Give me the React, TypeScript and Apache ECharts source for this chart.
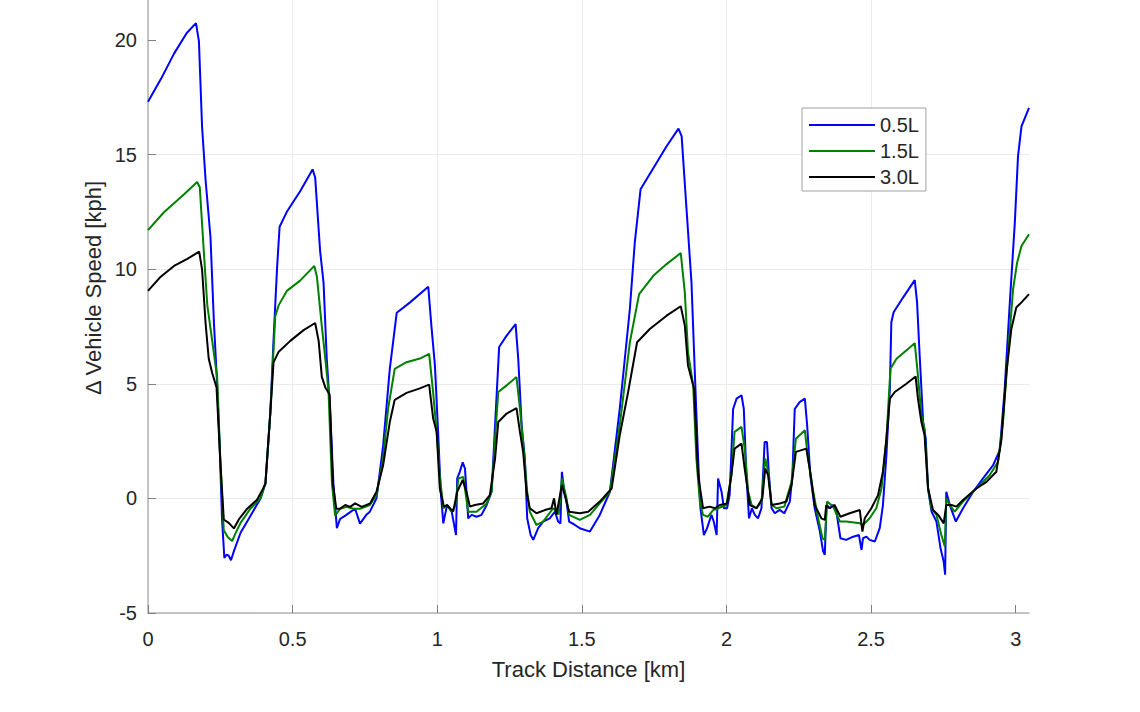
import React, { useEffect, useRef } from "react";
import * as echarts from "echarts";

// Track distance [km] and Δ vehicle speed [kph] for each configuration
const dist05 = [
  0, 0.045, 0.09, 0.134, 0.166, 0.176, 0.187, 0.199, 0.216, 0.228, 0.239, 0.248, 0.256, 0.264, 0.272, 0.279, 0.287,
  0.297, 0.32, 0.354, 0.389, 0.406, 0.423, 0.434, 0.446, 0.455, 0.48, 0.526, 0.569, 0.578, 0.595, 0.607, 0.618, 0.63,
  0.641, 0.653, 0.664, 0.682, 0.699, 0.716, 0.733, 0.756, 0.767, 0.79, 0.813, 0.836, 0.86, 0.906, 0.969, 0.98, 0.992,
  1.003, 1.012, 1.021, 1.034, 1.05, 1.065, 1.069, 1.078, 1.088, 1.096, 1.107, 1.119, 1.136, 1.153, 1.171, 1.188, 1.2,
  1.214, 1.24, 1.271, 1.28, 1.292, 1.303, 1.311, 1.323, 1.332, 1.349, 1.366, 1.389, 1.407, 1.418, 1.426, 1.431, 1.438,
  1.447, 1.456, 1.476, 1.493, 1.528, 1.562, 1.597, 1.631, 1.666, 1.683, 1.703, 1.747, 1.793, 1.834, 1.845, 1.862,
  1.879, 1.891, 1.902, 1.91, 1.922, 1.933, 1.948, 1.956, 1.966, 1.971, 1.983, 1.991, 2.002, 2.011, 2.023, 2.035, 2.052,
  2.06, 2.069, 2.078, 2.088, 2.098, 2.109, 2.121, 2.132, 2.14, 2.147, 2.156, 2.167, 2.184, 2.2, 2.219, 2.228, 2.236,
  2.253, 2.271, 2.279, 2.29, 2.305, 2.323, 2.334, 2.34, 2.346, 2.357, 2.369, 2.38, 2.394, 2.414, 2.438, 2.458, 2.467,
  2.472, 2.484, 2.495, 2.513, 2.53, 2.541, 2.553, 2.565, 2.57, 2.578, 2.611, 2.651, 2.659, 2.668, 2.68, 2.689, 2.697,
  2.709, 2.726, 2.74, 2.751, 2.756, 2.76, 2.772, 2.793, 2.818, 2.853, 2.887, 2.922, 2.945, 2.962, 2.979, 2.997, 3.008,
  3.02, 3.046,
];
const speed05 = [
  17.3, 18.3, 19.4, 20.3, 20.73, 19.95, 16.2, 13.9, 11.4, 7.65, 5.0, 2.2, -0.92, -2.6, -2.45, -2.5, -2.7,
  -2.3, -1.5, -0.77, 0.0, 0.65, 3.75, 6.9, 10.0, 11.85, 12.5, 13.4, 14.35, 14.0, 10.8, 9.4, 6.1, 3.75,
  0.65, -1.3, -0.9, -0.75, -0.6, -0.45, -1.1, -0.7, -0.58, 0.0, 2.3, 5.65, 8.1, 8.55, 9.23, 7.5, 5.8,
  2.9, 0.3, -1.09, -0.29, -0.58, -1.6, 0.87, 1.16, 1.57, 1.3, -0.87, -0.72, -0.8, -0.72, -0.29, 0.29, 3.2,
  6.6, 7.1, 7.6, 6.1, 3.19, 1.74, -0.87, -1.6, -1.81, -1.3, -1.01, -0.87, -0.58, -1.01, -1.09, 1.16, 0.43,
  -0.14, -1.01, -1.16, -1.3, -1.45, -0.72, 0.29, 3.9, 8.26, 11.16, 13.48, 14.4, 15.36, 16.13, 15.8, 12.6,
  9.42, 5.36, 1.74, -0.43, -1.6, -1.3, -0.72, -1.01, -1.6, 0.87, 0.29, -0.43, -0.43, 0.14, 3.9, 4.35, 4.5,
  3.9, 1.0, -0.87, -0.43, -0.72, -0.87, -0.43, 2.46, 2.46, 1.0, -0.43, -0.65, -0.5, -0.65, -0.14, 1.0, 3.9,
  4.2, 4.35, 3.19, 1.0, -0.43, -1.45, -2.3, -2.46, -0.29, -0.43, -0.29, -0.58, -1.74, -1.81, -1.67, -1.6, -2.25,
  -1.74, -1.67, -1.81, -1.88, -1.3, -0.29, 1.88, 4.78, 7.68, 8.12, 8.77, 9.52, 8.55, 6.23, 3.33, 2.6, 0.43,
  -0.58, -1.01, -2.17, -2.75, -3.33, 0.29, -0.29, -1.01, -0.43, 0.29, 0.87, 1.45, 2.1, 4.78, 8.4, 12.03, 14.93,
  16.23, 17.03,
];

const dist15 = [
  0, 0.055, 0.124, 0.17, 0.179, 0.193, 0.205, 0.222, 0.239, 0.251, 0.262, 0.276, 0.291, 0.302, 0.32, 0.354, 0.389,
  0.406, 0.423, 0.44, 0.452, 0.48, 0.526, 0.575, 0.584, 0.601, 0.613, 0.624, 0.636, 0.647, 0.664, 0.687, 0.71, 0.733,
  0.767, 0.79, 0.813, 0.83, 0.853, 0.894, 0.94, 0.972, 0.986, 0.998, 1.009, 1.021, 1.034, 1.05, 1.063, 1.073, 1.09,
  1.107, 1.136, 1.171, 1.188, 1.203, 1.211, 1.24, 1.274, 1.286, 1.3, 1.311, 1.32, 1.343, 1.366, 1.401, 1.42, 1.431,
  1.447, 1.456, 1.493, 1.528, 1.562, 1.597, 1.631, 1.666, 1.698, 1.747, 1.793, 1.842, 1.856, 1.867, 1.885, 1.896,
  1.908, 1.919, 1.936, 1.954, 1.971, 2.0, 2.017, 2.028, 2.052, 2.063, 2.075, 2.087, 2.104, 2.121, 2.134, 2.144, 2.156,
  2.173, 2.2, 2.225, 2.24, 2.271, 2.282, 2.3, 2.317, 2.332, 2.34, 2.348, 2.369, 2.392, 2.414, 2.461, 2.472, 2.495,
  2.518, 2.536, 2.553, 2.567, 2.588, 2.651, 2.662, 2.674, 2.685, 2.697, 2.709, 2.726, 2.743, 2.755, 2.76, 2.772,
  2.789, 2.818, 2.864, 2.91, 2.939, 2.956, 2.973, 2.991, 3.005, 3.02, 3.046,
];
const speed15 = [
  11.7, 12.48, 13.26, 13.8, 13.57, 10.76, 8.43, 6.87, 5.3, 1.4, -1.39, -1.7, -1.86, -1.54, -1.07, -0.45, 0.0,
  0.65, 3.75, 7.95, 8.43, 9.05, 9.5, 10.14, 9.67, 7.5, 6.1, 4.7, 0.65, -0.75, -0.45, -0.37, -0.45, -0.45,
  -0.29, 0.14, 1.74, 3.9, 5.65, 5.94, 6.1, 6.3, 4.6, 2.9, 1.0, -0.43, -0.29, -0.58, -0.3, 0.87, 0.94,
  -0.58, -0.58, -0.22, 0.29, 3.19, 4.64, 4.93, 5.29, 3.9, 2.03, 0.29, -0.58, -1.16, -1.01, -0.43, -0.7, 0.87,
  0.0, -0.72, -0.94, -0.72, -0.22, 0.29, 3.19, 6.81, 8.91, 9.71, 10.22, 10.7, 8.99, 6.38, 4.93, 1.74,
  -0.14, -0.72, -0.8, -0.51, -0.43, -0.29, 1.01, 2.9, 3.12, 2.17, 0.29, -0.29, -0.43, -0.14, 1.74, 1.16, -0.29,
  -0.43, -0.36, 0.72, 2.6, 2.97, 1.74, 0.29, -0.87, -1.74, -1.81, -0.14, -0.36, -1.01, -1.01, -1.09, -1.16, -0.87,
  -0.43, 0.43, 2.6, 5.65, 6.09, 6.77, 5.36, 3.62, 3.04, 0.43, -0.43, -0.72, -1.6, -2.1, 0.0, -0.29,
  -0.58, -0.14, 0.43, 1.01, 1.6, 3.33, 6.23, 9.13, 10.29, 11.01, 11.52,
];

const dist30 = [
  0, 0.044, 0.09, 0.136, 0.177, 0.187, 0.199, 0.21, 0.222, 0.237, 0.251, 0.262, 0.279, 0.297, 0.314, 0.343, 0.377,
  0.394, 0.406, 0.423, 0.434, 0.452, 0.492, 0.538, 0.578, 0.59, 0.601, 0.613, 0.628, 0.639, 0.651, 0.664, 0.682,
  0.699, 0.716, 0.739, 0.768, 0.79, 0.813, 0.836, 0.853, 0.894, 0.94, 0.972, 0.986, 0.998, 1.009, 1.023, 1.034, 1.055,
  1.069, 1.088, 1.101, 1.113, 1.13, 1.159, 1.182, 1.2, 1.211, 1.24, 1.274, 1.286, 1.297, 1.309, 1.32, 1.343, 1.372,
  1.395, 1.404, 1.412, 1.431, 1.441, 1.456, 1.493, 1.522, 1.562, 1.603, 1.631, 1.66, 1.691, 1.735, 1.793, 1.842,
  1.856, 1.867, 1.879, 1.888, 1.902, 1.919, 1.942, 1.96, 1.977, 2.002, 2.017, 2.028, 2.052, 2.063, 2.081, 2.104,
  2.124, 2.134, 2.144, 2.156, 2.184, 2.207, 2.225, 2.24, 2.276, 2.288, 2.305, 2.328, 2.34, 2.345, 2.357, 2.374,
  2.394, 2.426, 2.461, 2.47, 2.478, 2.501, 2.524, 2.541, 2.553, 2.565, 2.582, 2.622, 2.654, 2.662, 2.674, 2.685,
  2.697, 2.714, 2.732, 2.751, 2.76, 2.778, 2.795, 2.818, 2.864, 2.899, 2.933, 2.951, 2.968, 2.985, 3.002, 3.02, 3.046,
];
const speed30 = [
  9.05, 9.67, 10.14, 10.45, 10.76, 9.98, 7.65, 6.09, 5.47, 4.84, 1.4, -0.92, -1.07, -1.31, -0.92, -0.45, -0.06,
  0.33, 0.65, 3.75, 5.93, 6.4, 6.87, 7.34, 7.65, 6.87, 5.3, 4.84, 4.53, 0.65, -0.45, -0.45, -0.29,
  -0.37, -0.22, -0.37, -0.22, 0.29, 1.45, 3.33, 4.3, 4.6, 4.8, 4.96, 3.48, 2.9, 0.43, -0.36, -0.29, -0.58,
  0.29, 0.8, 0.29, -0.36, -0.29, -0.22, 0.14, 1.74, 3.33, 3.7, 3.94, 2.9, 2.03, 0.29, -0.43, -0.65, -0.51,
  -0.43, 0.0, -0.72, 0.58, 0.14, -0.58, -0.65, -0.58, -0.14, 0.43, 2.75, 4.64, 6.81, 7.39, 7.97, 8.38,
  7.54, 5.8, 5.22, 4.78, 1.01, -0.43, -0.36, -0.43, -0.29, -0.22, 1.01, 2.17, 2.39, 1.3, -0.29, -0.43,
  0.0, 1.3, 1.01, -0.29, -0.22, -0.14, 0.58, 2.03, 2.17, 1.3, -0.29, -0.87, -0.94, -0.3, -0.43, -0.29,
  -0.8, -0.65, -0.51, -1.45, -0.87, -0.43, 0.14, 1.16, 2.6, 4.35, 4.64, 5.0, 5.32, 4.35, 3.33, 2.75,
  0.43, -0.51, -0.72, -1.09, -0.29, -0.29, -0.36, -0.07, 0.43, 0.72, 1.16, 2.6, 5.51, 7.39, 8.33, 8.55, 8.91,
];

const seriesNames = ["0.5L", "1.5L", "3.0L"];
const seriesColors = ["#0000ff", "#008000", "#000000"];
const xTicks = [0, 0.5, 1, 1.5, 2, 2.5, 3];
const yTicks = [-5, 0, 5, 10, 15, 20];

const FONT = "'Liberation Sans', Arial, Helvetica, sans-serif";
const TEXT = "#262626";
const AXIS = "#b4b4b4";

function zip(xs: number[], ys: number[]) {
  return xs.map((x, i) => [x, ys[i]]);
}

export default function App() {
  const ref = useRef<HTMLDivElement>(null);
  useEffect(() => {
    if (!ref.current) return;
    const chart = echarts.init(ref.current, undefined, { renderer: "svg" });
    const data = [zip(dist05, speed05), zip(dist15, speed15), zip(dist30, speed30)];
    chart.setOption({
      animation: false,
      backgroundColor: "#ffffff",
      textStyle: { fontFamily: FONT },
      grid: { left: 148, right: 111, top: 0, bottom: 99, containLabel: false },
      legend: {
        orient: "vertical",
        left: 802,
        top: 108,
        padding: [7, 7, 4, 7],
        icon: "rect",
        itemWidth: 66,
        itemHeight: 2,
        itemGap: 6,
        borderColor: "#a0a0a0",
        borderWidth: 1,
        backgroundColor: "#ffffff",
        textStyle: { fontSize: 20, color: TEXT, fontFamily: FONT },
        data: seriesNames.map((name, i) => ({
          name,
          icon: "rect",
          itemStyle: { color: seriesColors[i], borderWidth: 0 },
        })),
      },
      xAxis: {
        type: "value",
        min: 0,
        max: 3.046,
        name: "Track Distance [km]",
        nameLocation: "middle",
        nameGap: 45,
        nameTextStyle: { fontSize: 22, color: TEXT, fontFamily: FONT },
        axisLine: { show: true, onZero: false, lineStyle: { color: AXIS, width: 1.5 } },
        axisTick: { show: true, inside: true, length: 8, customValues: xTicks, lineStyle: { color: "#808080", width: 1 } },
        axisLabel: { customValues: xTicks, fontSize: 20, color: TEXT, margin: 16, fontFamily: FONT },
        splitLine: { show: true, showMaxLine: false, lineStyle: { color: "#ebebeb", width: 1 } },
      },
      yAxis: {
        type: "value",
        min: -5,
        max: 21.74,
        axisLine: { show: true, onZero: false, lineStyle: { color: AXIS, width: 1.5 } },
        axisTick: { show: true, inside: true, length: 8, customValues: yTicks, lineStyle: { color: "#808080", width: 1 } },
        axisLabel: { customValues: yTicks, fontSize: 20, color: TEXT, margin: 11, fontFamily: FONT },
        splitLine: { show: true, showMaxLine: false, lineStyle: { color: "#ebebeb", width: 1 } },
      },
      graphic: [
        {
          type: "text",
          x: 93,
          y: 288,
          rotation: Math.PI / 2,
          style: {
            text: "\u0394 Vehicle Speed [kph]",
            font: `22px ${FONT}`,
            fill: TEXT,
            align: "center",
            verticalAlign: "middle",
          },
        },
      ],
      series: seriesNames.map((name, i) => ({
        name,
        type: "line",
        data: data[i],
        symbol: "none",
        showSymbol: false,
        color: seriesColors[i],
        lineStyle: { color: seriesColors[i], width: 2 },
        z: 2 + i,
      })),
    });
    return () => chart.dispose();
  }, []);
  return (
    <div
      ref={ref}
      style={{ position: "absolute", left: 0, top: 0, width: 1140, height: 712, background: "#fff" }}
    />
  );
}
